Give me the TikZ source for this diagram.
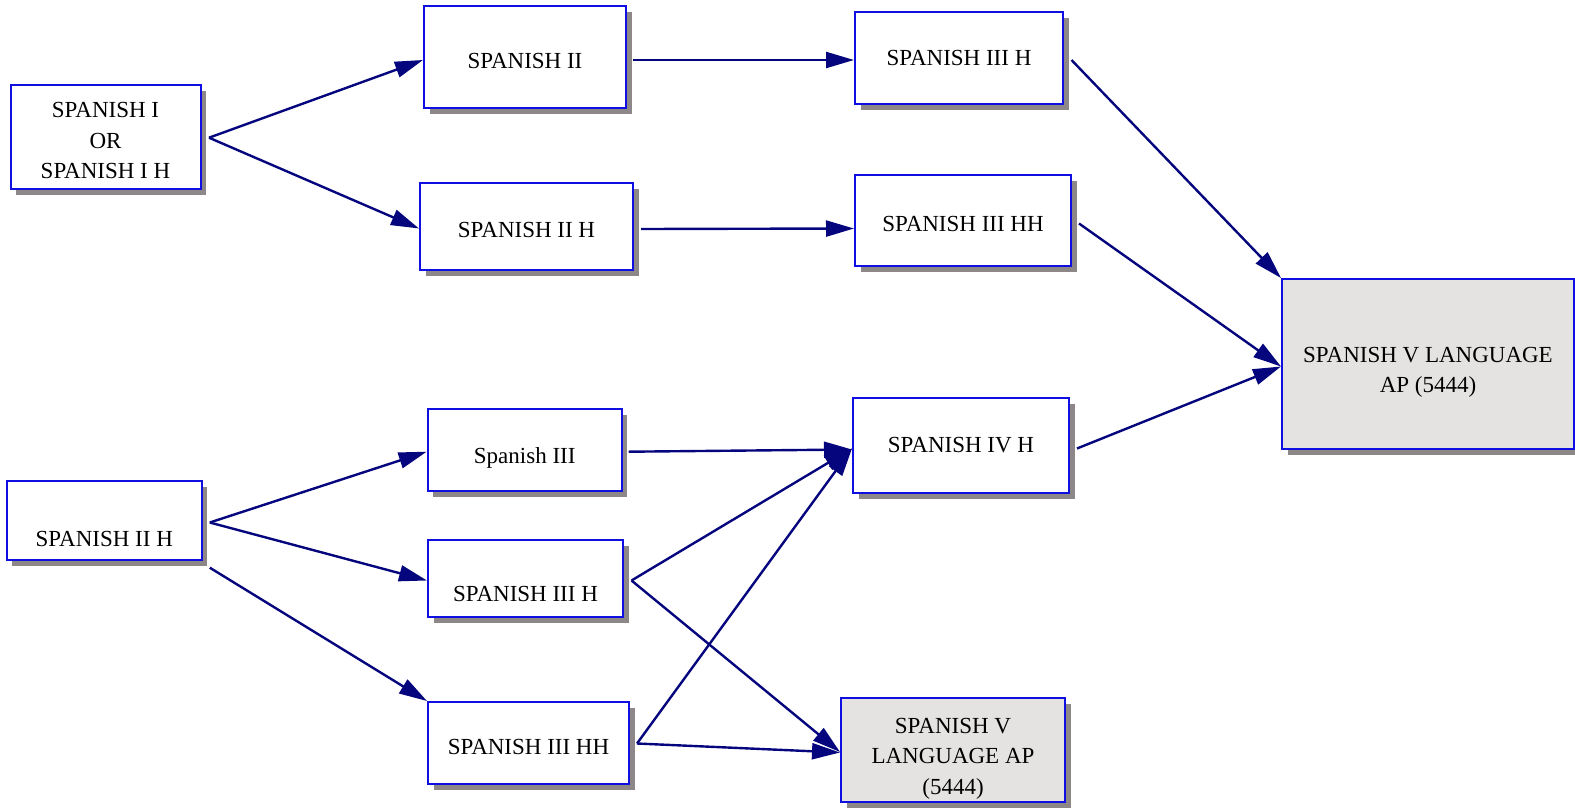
\documentclass[tikz,border=0pt]{standalone}
\usepackage{fontspec}
\setmainfont{Liberation Serif}
\usetikzlibrary{shadows,calc,arrows.meta}
\definecolor{boxblue}{RGB}{15,15,225}
\definecolor{arrnavy}{RGB}{5,5,125}
\definecolor{shgray}{RGB}{142,135,135}
\definecolor{apgray}{RGB}{228,227,226}
\begin{document}
\begin{tikzpicture}[x=1pt,y=-1pt,
  box/.style={draw=boxblue, line width=2pt, fill=white, align=center,
    font=\fontsize{23}{30.5}\selectfont,
    drop shadow={shadow xshift=5.5pt, shadow yshift=-6pt, fill=shgray, opacity=1}},
  apbox/.style={box, fill=apgray},
  txtpos/.style={text height=#1, text depth=0pt},
  arr/.style={draw=arrnavy, line width=2.4pt, -{Triangle[length=28pt,width=16pt]}}]
\useasboundingbox (0,0) rectangle (1575,809);
\node[box, minimum width=190, minimum height=104] (s1) at (105.5,137) {\rule{0pt}{23pt}SPANISH I\\OR\\SPANISH I H};
\node[box, minimum width=202, minimum height=102, txtpos=23.2pt] (s2) at (525,57) {SPANISH II};
\node[box, minimum width=213, minimum height=87, txtpos=21pt] (s2h) at (526.5,226.5) {SPANISH II H};
\node[box, minimum width=208, minimum height=92, txtpos=15pt] (s3h) at (959,58) {SPANISH III H};
\node[box, minimum width=216, minimum height=91, txtpos=22pt] (s3hh) at (963,220.5) {SPANISH III HH};
\node[apbox, minimum width=292, minimum height=170] (ap) at (1428,364) {\rule{0pt}{32pt}SPANISH V LANGUAGE\\AP (5444)};
\node[box, minimum width=195, minimum height=79, txtpos=51.2pt] (s2hb) at (104.3,520.5) {SPANISH II H};
\node[box, minimum width=194, minimum height=82, txtpos=26pt] (sp3) at (524.7,450) {Spanish III};
\node[box, minimum width=195, minimum height=77, txtpos=46pt] (s3hm) at (525.5,578.5) {SPANISH III H};
\node[box, minimum width=201, minimum height=82, txtpos=23pt] (s3hhb) at (528.5,743) {SPANISH III HH};
\node[box, minimum width=216, minimum height=95, txtpos=14pt] (s4h) at (961,445.5) {SPANISH IV H};
\node[apbox, minimum width=224, minimum height=104] (apsm) at (953,750) {\rule{0pt}{32pt}SPANISH V\\LANGUAGE AP\\(5444)};

\draw[arr] ($(s1.east)+(7.5,0.7)$) -- ($(s2.west)+(0,3)$);
\draw[arr] ($(s1.east)+(7.5,0.7)$) -- ($(s2h.west)+(0,2)$);
\draw[arr] ($(s2.east)+(6,3)$) -- ($(s3h.west)+(0,2)$);
\draw[arr] ($(s2h.east)+(7,2.5)$) -- ($(s3hh.west)+(0,8)$);
\draw[arr] ($(s3h.east)+(7.5,2)$) -- (ap.north west);
\draw[arr] ($(s3hh.east)+(7,3)$) -- ($(ap.west)+(0,2.5)$);
\draw[arr] ($(s4h.east)+(7,3)$) -- ($(ap.west)+(0,2.5)$);
\draw[arr] ($(s2hb.east)+(7,2)$) -- ($(sp3.west)+(0,1.7)$);
\draw[arr] ($(s2hb.east)+(7,2)$) -- ($(s3hm.west)+(0,2)$);
\draw[arr] ($(s2hb.south east)+(7,6.7)$) -- (s3hhb.north west);
\draw[arr] ($(sp3.east)+(6,1.7)$) -- ($(s4h.west)+(0,4)$);
\draw[arr] ($(s3hm.east)+(7.5,2)$) -- ($(s4h.west)+(0,3)$);
\draw[arr] ($(s3hm.east)+(7.5,2)$) -- ($(apsm.west)+(0,2)$);
\draw[arr] ($(s3hhb.east)+(7,0.5)$) -- ($(s4h.west)+(0,3)$);
\draw[arr] ($(s3hhb.east)+(7,0.5)$) -- ($(apsm.west)+(0,2.5)$);
\end{tikzpicture}
\end{document}
